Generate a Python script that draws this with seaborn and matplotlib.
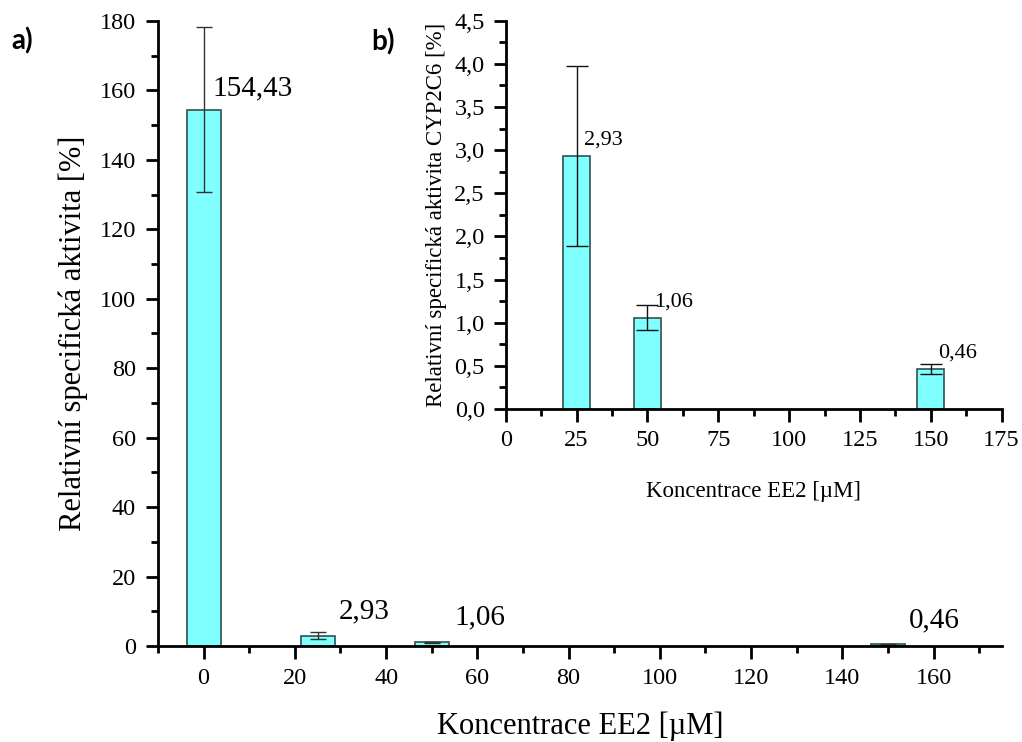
import numpy as np
import pandas as pd
import matplotlib
matplotlib.use("Agg")
import matplotlib.pyplot as plt
from matplotlib.ticker import FuncFormatter
import seaborn as sns

# ---- data ----
conc_main = [0, 25, 50, 150]
act_main = [154.43, 2.93, 1.06, 0.46]
err_main = [23.7, 1.04, 0.15, 0.06]
lab_main = ["154,43", "2,93", "1,06", "0,46"]

conc_inset = [25, 50, 150]
act_inset = [2.93, 1.06, 0.46]
err_inset = [1.04, 0.15, 0.06]
lab_inset = ["2,93", "1,06", "0,46"]

xlabel = "Koncentrace EE2 [µM]"
ylabel_main = "Relativní specifická aktivita [%]"
ylabel_inset = "Relativní specifická aktivita CYP2C6 [%]"

sns.set_style("ticks")
plt.rcParams['font.family'] = ['Liberation Serif', 'DejaVu Serif']
plt.rcParams['axes.linewidth'] = 2
plt.rcParams['text.color'] = 'black'
plt.rcParams['axes.labelcolor'] = 'black'
plt.rcParams['xtick.color'] = 'black'
plt.rcParams['ytick.color'] = 'black'
plt.rcParams['axes.edgecolor'] = 'black'

FACE = "#80FFFF"
EDGE = "#2E5252"

fig = plt.figure(figsize=(10.22, 7.42), dpi=100)
ax = fig.add_axes([0.1546, 0.1294, 0.8258, 0.8423])
ax2 = fig.add_axes([0.4948, 0.4488, 0.4853, 0.5233])
ax2.patch.set_alpha(0)

df_main = pd.DataFrame({"c": conc_main, "a": act_main})
df_in = pd.DataFrame({"c": conc_inset, "a": act_inset})

sns.barplot(data=df_main, x="c", y="a", native_scale=True, width=0.3,
            color=FACE, saturation=1, edgecolor=EDGE, linewidth=1.2,
            errorbar=None, ax=ax)
ax.errorbar(conc_main, act_main, yerr=err_main, fmt='none', ecolor='#333333',
            elinewidth=1, capsize=6, capthick=1)

sns.barplot(data=df_in, x="c", y="a", native_scale=True, width=0.38,
            color=FACE, saturation=1, edgecolor=EDGE, linewidth=1.2,
            errorbar=None, ax=ax2)
ax2.errorbar(conc_inset, act_inset, yerr=err_inset, fmt='none', ecolor='#111111',
             elinewidth=1, capsize=8, capthick=1)

# main axes styling
ax.set_xlim(-10, 175)
ax.set_ylim(0, 180)
ax.set_xticks(np.arange(0, 161, 20))
ax.set_xticks(np.arange(-10, 175, 20), minor=True)
ax.set_yticks(np.arange(0, 181, 20))
ax.set_yticks(np.arange(10, 180, 20), minor=True)
ax.tick_params(axis='both', which='major', length=9, width=2, labelsize=17.5, pad=7,
               direction='out', color='black', labelcolor='black')
ax.tick_params(axis='both', which='minor', length=5, width=2, direction='out')
for s in ["top", "right"]:
    ax.spines[s].set_visible(False)
ax.set_xlabel(xlabel, fontsize=22, labelpad=16)
ax.set_ylabel(ylabel_main, fontsize=22, labelpad=8)

offs_main = [(1.9, 160.7), (29.6, 9.9), (54.9, 8.1), (154.7, 7.3)]
for (tx, ty), t in zip(offs_main, lab_main):
    ax.text(tx, ty, t, fontsize=21, ha='left', va='center', color='black')

# inset styling
ax2.set_xlim(0, 175)
ax2.set_ylim(0, 4.5)
ax2.set_xticks(np.arange(0, 176, 25))
ax2.set_xticks(np.arange(12.5, 175, 25), minor=True)
ax2.set_yticks(np.arange(0, 4.51, 0.5))
ax2.set_yticks(np.arange(0.25, 4.5, 0.5), minor=True)
ax2.yaxis.set_major_formatter(FuncFormatter(lambda v, p: f"{v:.1f}".replace('.', ',')))
ax2.xaxis.set_major_formatter(FuncFormatter(lambda v, p: f"{v:.0f}"))
ax2.tick_params(axis='both', which='major', length=9, width=2, labelsize=17.5, pad=6,
                direction='out', color='black', labelcolor='black')
ax2.tick_params(axis='both', which='minor', length=5, width=2, direction='out')
for s in ["top", "right"]:
    ax2.spines[s].set_visible(False)
ax2.set_xlabel(xlabel, fontsize=16.5, labelpad=22)
ax2.set_ylabel(ylabel_inset, fontsize=16.5, labelpad=5)

offs_in = [(27.6, 3.12), (52.3, 1.24), (152.5, 0.645)]
for (tx, ty), t in zip(offs_in, lab_inset):
    ax2.text(tx, ty, t, fontsize=16, ha='left', va='center', color='black')

fig.text(22 / 1022, 1 - 41 / 742, "a)", fontsize=20, fontweight='bold',
         family=['Lato', 'DejaVu Sans'], ha='center', va='center', color='black')
fig.text(383 / 1022, 1 - 42 / 742, "b)", fontsize=20, fontweight='bold',
         family=['Lato', 'DejaVu Sans'], ha='center', va='center', color='black')

fig.savefig("out.png", dpi=100)
